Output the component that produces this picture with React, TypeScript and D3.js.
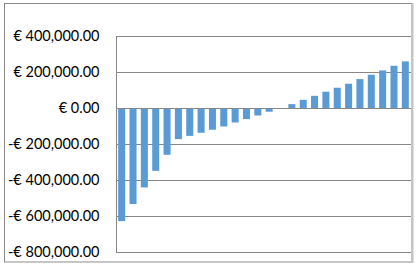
import React, { useEffect, useRef } from "react";
import { select, scaleBand, scaleLinear, axisLeft, format } from "d3";

// periods 1..26 (no category labels shown on the chart)
const periods = [
  "1", "2", "3", "4", "5", "6", "7", "8", "9", "10", "11", "12", "13",
  "14", "15", "16", "17", "18", "19", "20", "21", "22", "23", "24", "25", "26",
];

// cumulative balance in euro
const balances = [
  -627000, -532000, -440000, -348000, -259000, -172000, -154000, -137000,
  -120000, -102000, -80000, -61000, -41000, -20000, -2000, 22000, 46000,
  68000, 91000, 113000, 135000, 161000, 185000, 209000, 235000, 259000,
];

const yTicks = [400000, 200000, 0, -200000, -400000, -600000, -800000];

const W = 416;
const H = 268;
const barColor = "#5b9bd5";
const gridColor = "#878787";

const euro = (v: number) => {
  const s = format(",.2f")(Math.abs(v));
  return (v < 0 ? "-€ " : "€ ") + s;
};

export default function App() {
  const ref = useRef<SVGSVGElement>(null);

  useEffect(() => {
    const svg = select(ref.current);
    svg.selectAll("*").remove();

    const left = 116;
    const right = 411;
    const top = 36;
    const bottom = 252.3;

    const x = scaleBand<string>().domain(periods).range([left, right]).paddingInner(0.38).paddingOuter(0.19);
    const y = scaleLinear().domain([-800000, 400000]).range([bottom, top]);

    // chart frame
    svg.append("rect")
      .attr("x", 4.5).attr("y", 3.5)
      .attr("width", 407.5).attr("height", 258.5)
      .attr("fill", "white")
      .attr("stroke", "#8a8a8a");
    svg.append("line")
      .attr("x1", 412.5).attr("x2", 412.5).attr("y1", 3).attr("y2", 263)
      .attr("stroke", "#c4c4c4").attr("stroke-width", 2);
    svg.append("line")
      .attr("x1", 4).attr("x2", 413).attr("y1", 262.5).attr("y2", 262.5)
      .attr("stroke", "#c8c8c8");

    // gridlines
    svg.append("g")
      .selectAll("line")
      .data(yTicks)
      .join("line")
      .attr("x1", left).attr("x2", right)
      .attr("y1", d => Math.round(y(d)) + 0.5)
      .attr("y2", d => Math.round(y(d)) + 0.5)
      .attr("stroke", gridColor);

    // left axis with labels
    const yAxis = axisLeft(y).tickValues(yTicks).tickSize(0).tickPadding(17).tickFormat(d => euro(+d));
    const g = svg.append("g").attr("transform", `translate(${left + 0.5},0)`).call(yAxis);
    g.select(".domain").attr("stroke", gridColor).attr("d", `M0,${top}V${bottom}`);
    g.selectAll("text")
      .attr("fill", "#000")
      .style("font-family", "Lato, 'Open Sans', sans-serif")
      .style("font-size", "14.5px");

    // bars
    svg.append("g")
      .selectAll("rect")
      .data(balances)
      .join("rect")
      .attr("x", (d, i) => x(periods[i]) as number)
      .attr("width", x.bandwidth())
      .attr("y", d => y(Math.max(0, d)))
      .attr("height", d => Math.abs(y(d) - y(0)))
      .attr("fill", barColor);

    // zero line on top
    svg.append("line")
      .attr("x1", left).attr("x2", right)
      .attr("y1", Math.round(y(0)) + 0.5).attr("y2", Math.round(y(0)) + 0.5)
      .attr("stroke", gridColor);
  }, []);

  return (
    <svg ref={ref} width={W} height={H} style={{ position: "absolute", left: 0, top: 0 }} />
  );
}
